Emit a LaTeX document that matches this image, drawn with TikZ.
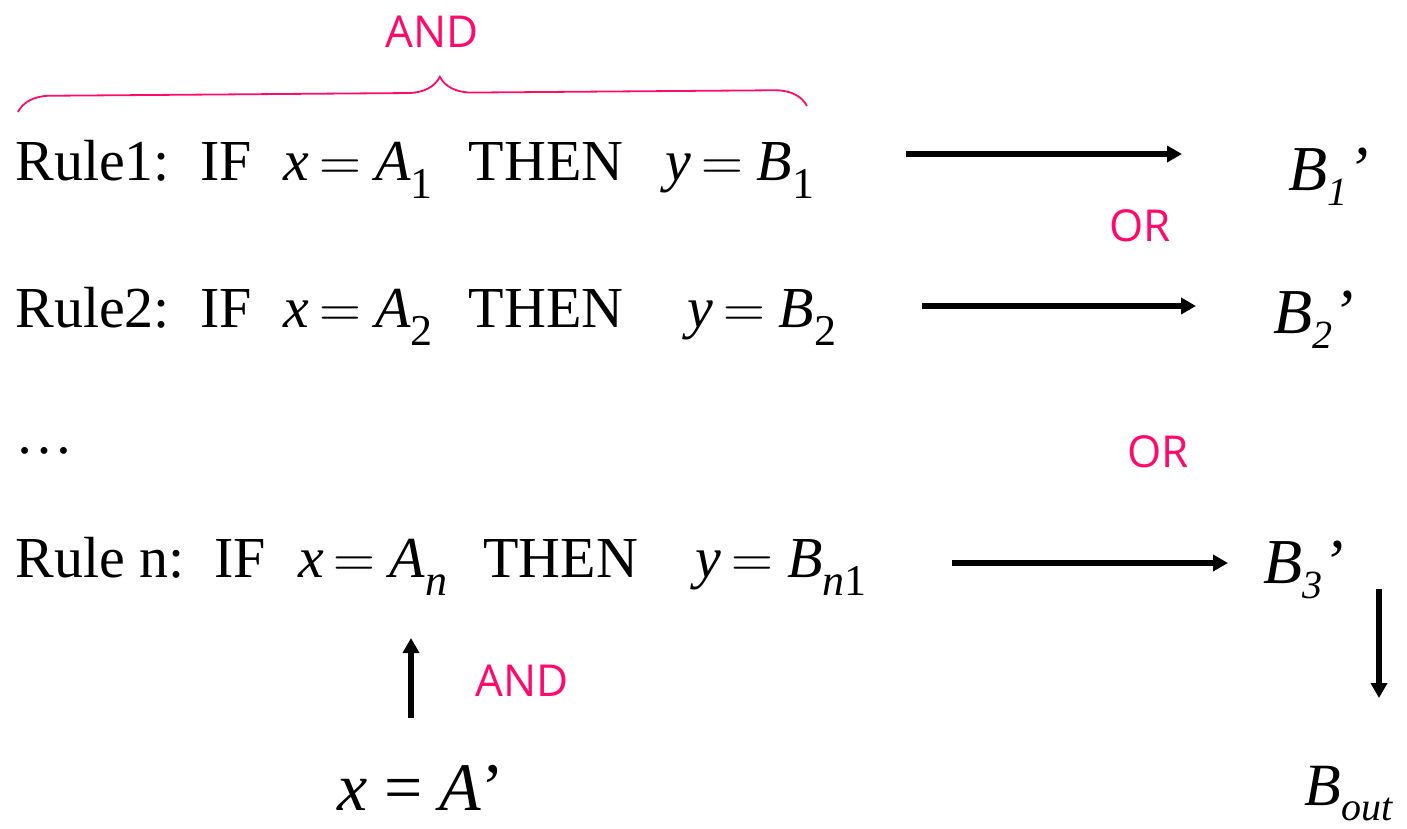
\documentclass[tikz,border=0pt]{standalone}
\usepackage{fix-cm}
\usepackage{fontspec}
\setmainfont{Liberation Serif}
\newfontfamily\logicfont{Open Sans}
\usetikzlibrary{arrows.meta,decorations.pathreplacing}
\definecolor{LogicPink}{HTML}{FF0A6C}
% lowered subscripts, upright and italic
\newcommand{\lo}[1]{\raisebox{-9pt}{\fontsize{22}{22}\selectfont #1}}
\newcommand{\loit}[1]{\raisebox{-7.5pt}{\fontsize{20}{20}\selectfont\itshape #1}}
% wide equals sign of the rules
\newcommand{\eq}{\hspace{5pt}$=$\hspace{7pt}}

\begin{document}
\begin{tikzpicture}[x=0.5pt, y=-0.5pt,
  rule/.style={anchor=base west, inner sep=0pt, font=\fontsize{29}{33}\selectfont},
  res/.style={anchor=base west, inner sep=0pt, font=\fontsize{32}{36}\selectfont\itshape},
  logic/.style={inner sep=0pt, text=LogicPink, font=\logicfont\fontsize{22}{26}\selectfont},
  flow/.style={line width=3.2pt, -{Triangle[length=7.5pt,width=8pt]}},
  brace/.style={draw=LogicPink, line width=0.9pt, decorate, decoration={brace, amplitude=16pt, aspect=0.535}}]
\useasboundingbox (0,0) rectangle (1407,829);
% rules
\node[rule] (rule1) at (15,180) {Rule1:\hspace{15pt}IF\hspace{16pt}\textit{x}\eq\textit{A}\lo{1}\hspace{18pt}THEN\hspace{21pt}\textit{y}\eq\textit{B}\lo{1}};
\node[rule] (rule2) at (15,327) {Rule2:\hspace{15pt}IF\hspace{16pt}\textit{x}\eq\textit{A}\lo{2}\hspace{18pt}THEN\hspace{32pt}\textit{y}\eq\textit{B}\lo{2}};
\node[rule] (dots) at (15,453) {\ldots};
\node[rule] (rulen) at (15,577) {Rule n:\hspace{15pt}IF\hspace{16pt}\textit{x}\eq\textit{A}\lo{\textit{n}}\hspace{18pt}THEN\hspace{29pt}\textit{y}\eq\textit{B}\lo{\textit{n}1}};
\node[rule, font=\fontsize{34}{38}\selectfont] (xA) at (337,810) {\textit{x} = \textit{A}’};
% results
\node[res] (b1) at (1288,190) {B\loit{1}’};
\node[res] (b2) at (1273,333) {B\loit{2}’};
\node[res] (b3) at (1263,583) {B\loit{3}’};
\node[res, font=\fontsize{30}{34}\selectfont\itshape] (bout) at (1304,805) {B\loit{out}};
% operators
\node[logic] (and1) at (432,32) {AND};
\node[logic] (or1) at (1140,226) {OR};
\node[logic] (or2) at (1158,452) {OR};
\node[logic] (and2) at (522,681) {AND};
\draw[brace] (18,112) -- (807,106);
% arrows
\coordinate (f1s) at (906,154);
\coordinate (f1e) at (1182,154);
\coordinate (f2s) at (922,306);
\coordinate (f2e) at (1196,306);
\coordinate (f3s) at (952,563);
\coordinate (f3e) at (1228,563);
\coordinate (dns) at (1379,589);
\coordinate (dne) at (1379,698);
\coordinate (ups) at (411,718);
\coordinate (upe) at (411,638);
\draw[flow] (f1s) -- (f1e);
\draw[flow] (f2s) -- (f2e);
\draw[flow] (f3s) -- (f3e);
\draw[flow] (dns) -- (dne);
\draw[flow] (ups) -- (upe);
\end{tikzpicture}
\end{document}
